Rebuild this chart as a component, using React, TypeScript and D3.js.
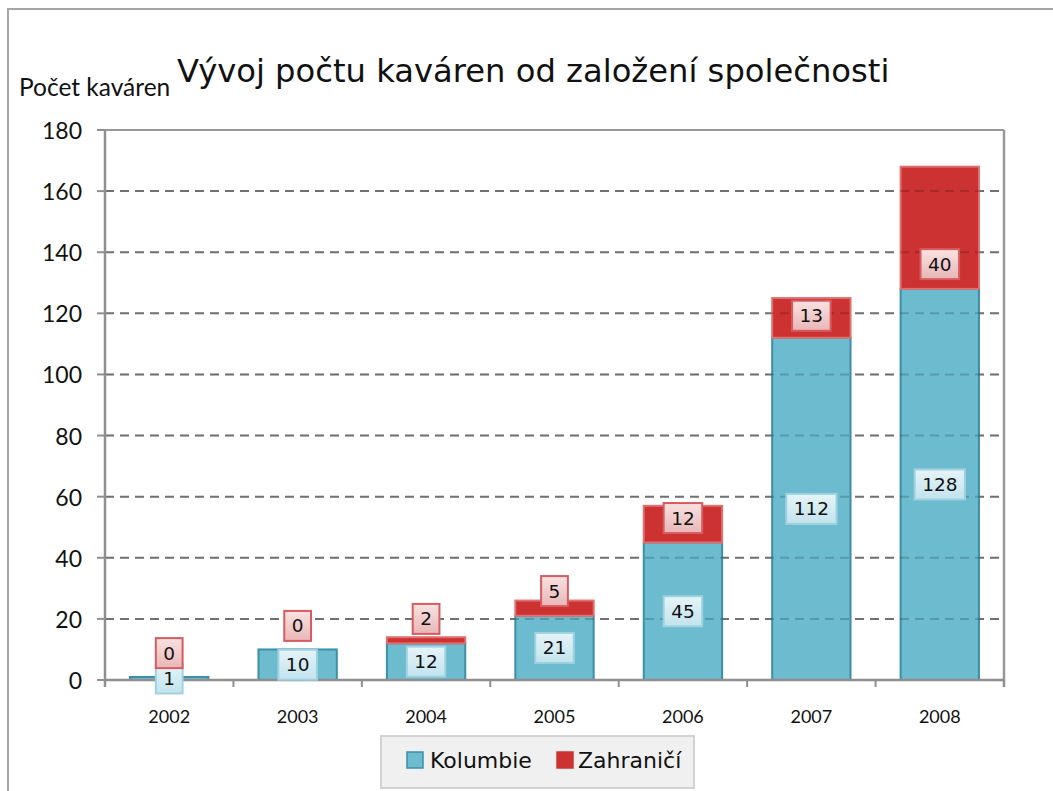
import React from "react";
import * as d3 from "d3";

const years = ["2002", "2003", "2004", "2005", "2006", "2007", "2008"];
const kolumbie = [1, 10, 12, 21, 45, 112, 128];
const zahranici = [0, 0, 2, 5, 12, 13, 40];
const yTicks = [0, 20, 40, 60, 80, 100, 120, 140, 160, 180];
// manual shift of the Zahraničí labels (in value units) as placed in the original
const zLabelShift = [7.8, 7.7, 7.0, 5.6, 2.0, 0.7, -11.9];

const W = 1053;
const H = 791;
const plot = { left: 105, right: 1004, top: 130, bottom: 680 };

const TEAL = "#6cbbcf";
const TEAL_STROKE = "#3b8fa8";
const RED = "#cd3232";
const RED_STROKE = "#e07070";

function charW(t: string, size: number) {
  // DejaVu Sans digit advance ~0.636em
  return t.length * 0.636 * size;
}

export default function App() {
  const x = d3.scaleBand<string>().domain(years).range([plot.left, plot.right]).paddingInner(0.39).paddingOuter(0.195);
  const y = d3.scaleLinear().domain([0, 180]).range([plot.bottom, plot.top]);
  const band = d3.scaleBand<string>().domain(years).range([plot.left, plot.right]);

  const stack = d3.stack<number>().keys(["k", "z"]).value((i, key) => (key === "k" ? kolumbie[i] : zahranici[i]));
  const series = stack(years.map((_, i) => i));

  const labelFont = 18.5;
  const boxH = 30;

  const label = (key: string, cx: number, cy: number, text: string, kind: "k" | "z") => {
    const w = charW(text, labelFont) + 15;
    return (
      <g key={key}>
        <rect
          x={cx - w / 2}
          y={cy - boxH / 2}
          width={w}
          height={boxH}
          fill={kind === "k" ? "url(#gk)" : "url(#gz)"}
          stroke={kind === "k" ? "#9fd2e0" : "#d65c60"}
          strokeWidth={2}
        />
        <text
          x={cx}
          y={cy}
          textAnchor="middle"
          dominantBaseline="central"
          fontFamily="DejaVu Sans"
          fontSize={labelFont}
          fill="#111"
        >
          {text}
        </text>
      </g>
    );
  };

  const gridTicks = yTicks.filter((t) => t !== 0 && t !== 180);

  return (
    <svg width={W} height={H} style={{ position: "absolute", left: 0, top: 0 }} xmlns="http://www.w3.org/2000/svg">
      <defs>
        <linearGradient id="gk" x1="0" y1="0" x2="0" y2="1">
          <stop offset="0" stopColor="#e6f4f8" />
          <stop offset="1" stopColor="#c2e3ed" />
        </linearGradient>
        <linearGradient id="gz" x1="0" y1="0" x2="0" y2="1">
          <stop offset="0" stopColor="#f9e2e2" />
          <stop offset="1" stopColor="#e9b6b6" />
        </linearGradient>
      </defs>
      <rect x={0} y={0} width={W} height={H} fill="#fff" />
      {/* outer frame */}
      <rect x={8} y={9} width={W + 20} height={H + 20} fill="none" stroke="#a6a6a6" strokeWidth={2} />

      {/* titles */}
      <text x={177} y={82} fontFamily="DejaVu Sans" fontSize={32.2} fill="#111">
        Vývoj počtu kaváren od založení společnosti
      </text>
      <text x={19} y={96} fontFamily="Lato" fontSize={24.5} fill="#111">
        Počet kaváren
      </text>

      {/* gridlines */}
      {gridTicks.map((t) => (
        <line
          key={"g" + t}
          x1={plot.left}
          x2={plot.right}
          y1={y(t)}
          y2={y(t)}
          stroke="#8a8a8a"
          strokeWidth={2}
          strokeDasharray="9 6"
        />
      ))}

      {/* bars */}
      {series.map((s) =>
        s.map((d, i) => {
          const h = y(d[0]) - y(d[1]);
          if (h <= 0) return null;
          const isK = s.key === "k";
          return (
            <rect
              key={s.key + i}
              x={x(years[i])!}
              y={y(d[1])}
              width={x.bandwidth()}
              height={h}
              fill={isK ? TEAL : RED}
              stroke={isK ? TEAL_STROKE : RED_STROKE}
              strokeWidth={2}
            />
          );
        })
      )}

      {/* faint gridlines showing through bars */}
      {gridTicks.map((t) => (
        <line
          key={"go" + t}
          x1={plot.left}
          x2={plot.right}
          y1={y(t)}
          y2={y(t)}
          stroke="#000"
          strokeOpacity={0.18}
          strokeWidth={2}
          strokeDasharray="9 6"
        />
      ))}

      {/* plot border top/right */}
      <line x1={plot.left - 8} x2={plot.right} y1={plot.top} y2={plot.top} stroke="#999" strokeWidth={2} />
      <line x1={plot.right} x2={plot.right} y1={plot.top} y2={plot.bottom + 7} stroke="#999" strokeWidth={2.5} />

      {/* y axis */}
      <line x1={plot.left} x2={plot.left} y1={plot.top} y2={plot.bottom + 7} stroke="#8f8f8f" strokeWidth={2.5} />
      {yTicks.map((t) => (
        <g key={"yt" + t}>
          <line x1={plot.left - 8} x2={plot.left} y1={y(t)} y2={y(t)} stroke="#8f8f8f" strokeWidth={2} />
          <text
            x={82}
            y={y(t)}
            textAnchor="end"
            dominantBaseline="central"
            fontFamily="Lato"
            fontSize={23}
            fill="#111"
          >
            {t}
          </text>
        </g>
      ))}

      {/* x axis */}
      <line x1={plot.left} x2={plot.right} y1={plot.bottom} y2={plot.bottom} stroke="#8f8f8f" strokeWidth={2.5} />
      {years.map((yr) => (
        <g key={"xt" + yr}>
          <line
            x1={band(yr)! + band.bandwidth()}
            x2={band(yr)! + band.bandwidth()}
            y1={plot.bottom}
            y2={plot.bottom + 7}
            stroke="#8f8f8f"
            strokeWidth={2}
          />
          <text
            x={band(yr)! + band.bandwidth() / 2}
            y={723}
            textAnchor="middle"
            fontFamily="Lato"
            fontSize={18}
            fill="#111"
          >
            {yr}
          </text>
        </g>
      ))}

      {/* data labels */}
      {years.map((yr, i) => {
        const cx = x(yr)! + x.bandwidth() / 2;
        return label("lk" + i, cx, y(kolumbie[i] / 2), String(kolumbie[i]), "k");
      })}
      {years.map((yr, i) => {
        const cx = x(yr)! + x.bandwidth() / 2;
        const mid = kolumbie[i] + zahranici[i] / 2 + zLabelShift[i];
        return label("lz" + i, cx, y(mid), String(zahranici[i]), "z");
      })}

      {/* legend */}
      <rect x={381} y={736} width={313} height={52} fill="#f0f0f0" stroke="#d2d2d2" strokeWidth={2} />
      <rect x={407} y={752} width={16} height={16} fill={TEAL} stroke={TEAL_STROKE} strokeWidth={1.5} />
      <text x={430} y={768} fontFamily="DejaVu Sans" fontSize={22} fill="#111">
        Kolumbie
      </text>
      <rect x={557} y={752} width={16} height={16} fill={RED} stroke={RED} strokeWidth={1.5} />
      <text x={578} y={768} fontFamily="DejaVu Sans" fontSize={22} fill="#111">
        Zahraničí
      </text>
    </svg>
  );
}
